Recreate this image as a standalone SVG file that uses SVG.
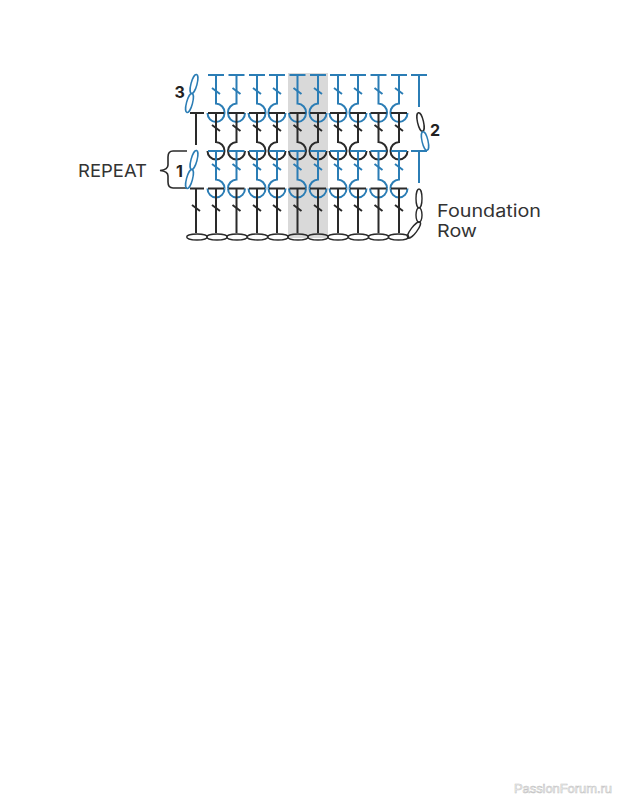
<svg xmlns="http://www.w3.org/2000/svg" width="618" height="800" viewBox="0 0 618 800">
<style>
.b{fill:none;stroke:#2b7db5;stroke-width:2}
.k{fill:none;stroke:#2a2a2a;stroke-width:2}
.o{fill:none;stroke:#2a2a2a;stroke-width:1.4}
.ob{fill:none;stroke:#2b7db5;stroke-width:1.5}
.t{font-family:"Inter","Liberation Sans",sans-serif;font-size:17px;fill:#333}
.n{font-family:"Inter","Liberation Sans",sans-serif;font-size:16px;font-weight:700;fill:#222}
</style>
<defs>
<ellipse id="ch" rx="10.300" ry="3"/>
</defs>
<rect id="band" x="288" y="73" width="40" height="165" fill="#d9d9d9"/>
<g id="connectors">
<g id="row3" class="b">
<path d="M208 75H224M228.500 75H244.500M249 75H265M269 75H285M289.500 75H305.500M310 75H326M330 75H346M350 75H366M370.500 75H386.500M391 75H407M411 75H427"/>
<path d="M216 75V103.500A9 9 0 0 1 224.500 113M236.500 75V103.500A9 9 0 0 0 228 113M257 75V103.500A9 9 0 0 1 265.500 113M277 75V103.500A9 9 0 0 0 268.500 113M297.500 75V103.500A9 9 0 0 1 306 113M318 75V103.500A9 9 0 0 0 309.500 113M338 75V103.500A9 9 0 0 1 346.500 113M358 75V103.500A9 9 0 0 0 349.500 113M378.500 75V103.500A9 9 0 0 1 387 113M399 75V103.500A9 9 0 0 0 390.500 113M419 75V107"/>
<path d="M212 88L220 94M232.500 88L240.500 94M253 88L261 94M273 88L281 94M293.500 88L301.500 94M314 88L322 94M334 88L342 94M354 88L362 94M374.500 88L382.500 94M395 88L403 94"/>
<path d="M207.500 113A8.500 9 0 0 0 224.500 113M228 113A8.500 9 0 0 0 245 113M248.500 113A8.500 9 0 0 0 265.500 113M268.500 113A8.500 9 0 0 0 285.500 113M289 113A8.500 9 0 0 0 306 113M309.500 113A8.500 9 0 0 0 326.500 113M329.500 113A8.500 9 0 0 0 346.500 113M349.500 113A8.500 9 0 0 0 366.500 113M370 113A8.500 9 0 0 0 387 113M390.500 113A8.500 9 0 0 0 407.500 113"/>
</g>
<g id="row2" class="k">
<path d="M190 113H204M196 113V145"/>
<path d="M208 113H224M228.500 113H244.500M249 113H265M269 113H285M289.500 113H305.500M310 113H326M330 113H346M350 113H366M370.500 113H386.500M391 113H407"/>
<path d="M216 113V142A9 9 0 0 1 224.500 151M236.500 113V142A9 9 0 0 0 228 151M257 113V142A9 9 0 0 1 265.500 151M277 113V142A9 9 0 0 0 268.500 151M297.500 113V142A9 9 0 0 1 306 151M318 113V142A9 9 0 0 0 309.500 151M338 113V142A9 9 0 0 1 346.500 151M358 113V142A9 9 0 0 0 349.500 151M378.500 113V142A9 9 0 0 1 387 151M399 113V142A9 9 0 0 0 390.500 151"/>
<path d="M212 125L220 131M232.500 125L240.500 131M253 125L261 131M273 125L281 131M293.500 125L301.500 131M314 125L322 131M334 125L342 131M354 125L362 131M374.500 125L382.500 131M395 125L403 131"/>
<path d="M207.500 151A8.500 8.500 0 0 0 224.500 151M228 151A8.500 8.500 0 0 0 245 151M248.500 151A8.500 8.500 0 0 0 265.500 151M268.500 151A8.500 8.500 0 0 0 285.500 151M289 151A8.500 8.500 0 0 0 306 151M309.500 151A8.500 8.500 0 0 0 326.500 151M329.500 151A8.500 8.500 0 0 0 346.500 151M349.500 151A8.500 8.500 0 0 0 366.500 151M370 151A8.500 8.500 0 0 0 387 151M390.500 151A8.500 8.500 0 0 0 407.500 151"/>
</g>
<g id="row1" class="b">
<path d="M208 151H224M228.500 151H244.500M249 151H265M269 151H285M289.500 151H305.500M310 151H326M330 151H346M350 151H366M370.500 151H386.500M391 151H407M411 151H427M419 151V183"/>
<path d="M216 151V179.500A9 9 0 0 1 224.500 188.500M236.500 151V179.500A9 9 0 0 0 228 188.500M257 151V179.500A9 9 0 0 1 265.500 188.500M277 151V179.500A9 9 0 0 0 268.500 188.500M297.500 151V179.500A9 9 0 0 1 306 188.500M318 151V179.500A9 9 0 0 0 309.500 188.500M338 151V179.500A9 9 0 0 1 346.500 188.500M358 151V179.500A9 9 0 0 0 349.500 188.500M378.500 151V179.500A9 9 0 0 1 387 188.500M399 151V179.500A9 9 0 0 0 390.500 188.500"/>
<path d="M212 164L220 170M232.500 164L240.500 170M253 164L261 170M273 164L281 170M293.500 164L301.500 170M314 164L322 170M334 164L342 170M354 164L362 170M374.500 164L382.500 170M395 164L403 170"/>
<path d="M207.500 188.500A8.500 9 0 0 0 224.500 188.500M228 188.500A8.500 9 0 0 0 245 188.500M248.500 188.500A8.500 9 0 0 0 265.500 188.500M268.500 188.500A8.500 9 0 0 0 285.500 188.500M289 188.500A8.500 9 0 0 0 306 188.500M309.500 188.500A8.500 9 0 0 0 326.500 188.500M329.500 188.500A8.500 9 0 0 0 346.500 188.500M349.500 188.500A8.500 9 0 0 0 366.500 188.500M370 188.500A8.500 9 0 0 0 387 188.500M390.500 188.500A8.500 9 0 0 0 407.500 188.500"/>
</g>
<g id="row0" class="k">
<path d="M190 188.500H204M196 188.500V233M216 188.500V233M236.500 188.500V233M257 188.500V233M277 188.500V233M297.500 188.500V233M318 188.500V233M338 188.500V233M358 188.500V233M378.500 188.500V233M399 188.500V233"/>
<path d="M208 188.500H224M228.500 188.500H244.500M249 188.500H265M269 188.500H285M289.500 188.500H305.500M310 188.500H326M330 188.500H346M350 188.500H366M370.500 188.500H386.500M391 188.500H407"/>
<path d="M192 205L200 211M212 205L220 211M232.500 205L240.500 211M253 205L261 211M273 205L281 211M293.500 205L301.500 211M314 205L322 211M334 205L342 211M354 205L362 211M374.500 205L382.500 211M395 205L403 211"/>
</g>
<path id="brace" d="M187 151H173C169 151 168 153 168 157V165C168 168 165 170 160 170.500C165 171 168 173 168 176V182C168 186 169 188 173 188H187" fill="none" stroke="#2a2a2a" stroke-width="1.600"/>
</g>
<g id="chain">
<use href="#ch" x="197" y="237" class="o"/><use href="#ch" x="217" y="237" class="o"/><use href="#ch" x="237" y="237" class="o"/><use href="#ch" x="257.500" y="237" class="o"/><use href="#ch" x="278" y="237" class="o"/><use href="#ch" x="298" y="237" class="o"/><use href="#ch" x="318" y="237" class="o"/><use href="#ch" x="338" y="237" class="o"/><use href="#ch" x="358.500" y="237" class="o"/><use href="#ch" x="378.500" y="237" class="o"/><use href="#ch" x="398.500" y="237" class="o"/>
<ellipse cx="414" cy="230" rx="3" ry="10" transform="rotate(37 414 230)" class="o"/>
<ellipse cx="419" cy="198.500" rx="3" ry="9.500" class="o"/>
<ellipse cx="419" cy="215" rx="3" ry="7.500" class="o"/>
</g>
<g id="loops">
<ellipse cx="194" cy="84" rx="3" ry="9.800" transform="rotate(15 194 84)" class="ob"/>
<ellipse cx="189.500" cy="103" rx="3" ry="9.800" transform="rotate(15 189.500 103)" class="ob"/>
<ellipse cx="194" cy="160" rx="3" ry="9.800" transform="rotate(15 194 160)" class="ob"/>
<ellipse cx="189.500" cy="179" rx="3" ry="9.800" transform="rotate(15 189.500 179)" class="ob"/>
<ellipse cx="420.500" cy="122" rx="3" ry="9.500" transform="rotate(-13 420.500 122)" fill="none" stroke="#2a2a2a" stroke-width="1.500"/>
<ellipse cx="425" cy="141" rx="3" ry="9.500" transform="rotate(-13 425 141)" class="ob"/>
</g>
<g id="labels">
<text class="n" x="174.500" y="98">3</text>
<text class="n" x="430" y="136">2</text>
<text class="n" x="176" y="177">1</text>
<text class="t" x="78" y="177" textLength="69" lengthAdjust="spacingAndGlyphs">REPEAT</text>
<text class="t" x="437" y="217" textLength="104" lengthAdjust="spacingAndGlyphs">Foundation</text>
<text class="t" x="437" y="237" textLength="40" lengthAdjust="spacingAndGlyphs">Row</text>
<text x="514" y="793" font-family="Liberation Sans, sans-serif" font-size="13" fill="#fff" stroke="#c4c4c4" stroke-width=".6" textLength="98">PassionForum.ru</text>
</g>
</svg>
